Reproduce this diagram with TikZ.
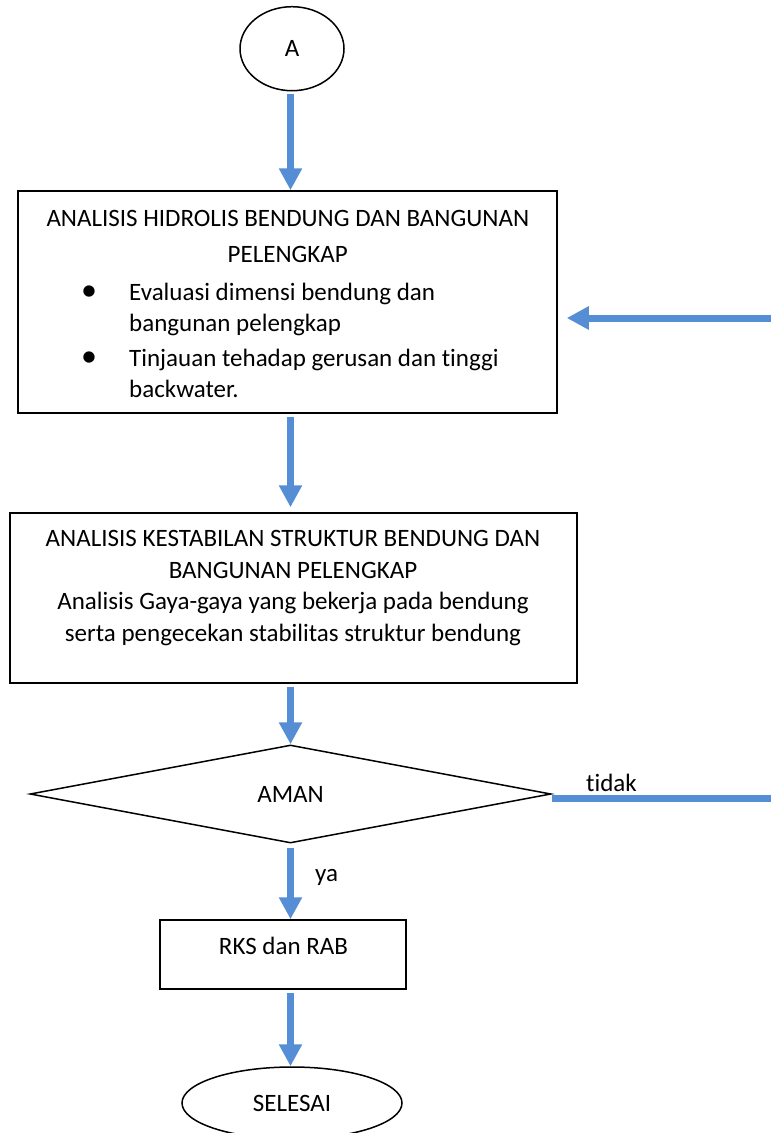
\documentclass[tikz,border=0pt]{standalone}
\usepackage{fontspec}
\setmainfont{Carlito}[Ligatures=NoCommon]
\usepackage{xcolor}
\usetikzlibrary{arrows.meta,shapes.geometric,positioning}
\definecolor{flowblue}{RGB}{85,142,213}
\tikzset{
    box/.style={draw, line width=1.5pt, inner sep=0pt},
    txt/.style={inner sep=0pt, anchor=base},
    flow/.style={draw=flowblue, line width=7pt, shorten <=3pt, -{Triangle[length=22pt,width=22pt]}},
    link/.style={draw=flowblue, line width=7pt}
}
\newcommand{\bul}{\makebox[0pt]{\fontsize{32}{30}\selectfont\textbullet}}

\begin{document}
\begin{tikzpicture}[x=1pt, y=-1pt, font=\fontsize{25}{31.5}\selectfont]
    \useasboundingbox (0,0) rectangle (771,1133);
    \coordinate (axis) at (290.5,0);
    % start / end
    \node[box, ellipse, minimum width=104pt, minimum height=84pt] (start) at (292,48.7) {A};
    \node[box, ellipse, minimum width=220pt, minimum height=72pt] (selesai) at (292,1103) {SELESAI};
    % hidrolis
    \node[box, minimum width=539pt, minimum height=222pt] (hidro) at (287.5,302) {};
    \node[txt] (hidroTitle) at (287.8,226.7) {\begin{tabular}[t]{@{}c@{}}ANALISIS HIDROLIS BENDUNG DAN BANGUNAN\\[3.8pt] PELENGKAP\end{tabular}};
    \node[txt, anchor=base west, font=\fontsize{25}{30.3}\selectfont] (hidroList) at (89,300.7) {\begin{tabular}[t]{@{}p{40pt}@{}l@{}}
        \bul & Evaluasi dimensi bendung dan\\
             & bangunan pelengkap\\[5.5pt]
        \bul & Tinjauan tehadap gerusan dan tinggi\\
             & backwater.
    \end{tabular}};
    % stabilitas
    \node[box, minimum width=567pt, minimum height=170pt] (stab) at (293.5,598) {};
    \node[txt] (stabTitle) at (293,546.5) {\begin{tabular}[t]{@{}c@{}}ANALISIS KESTABILAN STRUKTUR BENDUNG DAN\\ BANGUNAN PELENGKAP\\ Analisis Gaya-gaya yang bekerja pada bendung\\ serta pengecekan stabilitas struktur bendung\end{tabular}};
    % keputusan
    \node[box, diamond, aspect=5.3, minimum width=521pt, minimum height=98pt] (aman) at (290.5,794) {AMAN};
    \node[box, minimum width=246pt, minimum height=69pt] (rks) at (283,954.5) {};
    \node[txt] (rksText) at (283.5,954.7) {RKS dan RAB};
    % connectors
    \coordinate (backIn) at (771,318);
    \coordinate (noOut) at (771,798);
    \draw[flow] (start.south -| axis) -- (hidro.north -| axis);
    \draw[flow, shorten >=5pt] (hidro.south -| axis) -- (stab.north -| axis);
    \draw[flow] (stab.south -| axis) -- (aman.north -| axis);
    \draw[flow, shorten <=4pt] (aman.south -| axis) -- (rks.north -| axis);
    \draw[flow] (rks.south -| axis) -- (selesai.north -| axis);
    \draw[flow, shorten <=0pt, shorten >=9pt] (backIn) -- (hidro.east |- backIn);
    \draw[link] (aman.east |- noOut) -- (noOut);
    \node[txt, anchor=base west] (tidak) at (586,791) {tidak};
    \node[txt, anchor=base west] (ya) at (315,881.7) {ya};
\end{tikzpicture}
\end{document}
